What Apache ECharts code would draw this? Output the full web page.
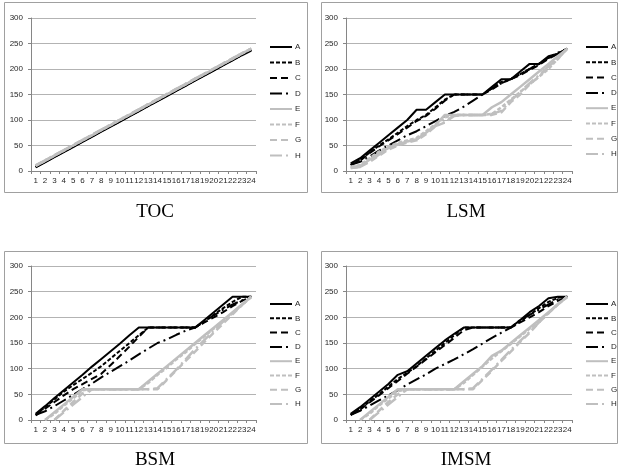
<!DOCTYPE html>
<html>
<head>
<meta charset="utf-8">
<script src="https://cdn.jsdelivr.net/npm/echarts@6/dist/echarts.min.js"></script>
<style>
html,body{margin:0;padding:0;background:#fff;}
#c{width:620px;height:474px;}
</style>
</head>
<body>
<div id="c"></div>
<script>
// ---- data ----
const categories = ['1','2','3','4','5','6','7','8','9','10','11','12','13','14','15','16','17','18','19','20','21','22','23','24'];
const seriesNames = ['A','B','C','D','E','F','G','H'];
const panelTitles = ['TOC','LSM','BSM','IMSM'];
const yTicks = [0,50,100,150,200,250,300];

// TOC
const tocA = [7,17,27,37,47,57,67,77,87,97,107,117,127,137,147,157,167,177,187,197,207,217,227,236];
const tocB = [8,18,28,38,48,58,68,78,88,98,108,118,128,138,148,158,168,178,188,198,208,218,228,238];
const tocC = [8,18,28,38,48,58,68,78,88,98,108,118,128,138,148,158,168,178,188,198,208,218,228,238];
const tocD = [8,18,28,38,48,58,68,78,88,98,108,118,128,138,148,158,168,178,188,198,208,218,228,238];
const tocE = [10,20,30,40,50,60,70,80,90,100,110,120,130,140,150,160,170,180,190,200,210,220,230,240];
const tocF = [10,20,30,40,50,60,70,80,90,100,110,120,130,140,150,160,170,180,190,200,210,220,230,240];
const tocG = [11,21,31,41,51,61,71,81,91,101,111,121,131,141,151,161,171,181,191,201,211,221,231,240];
const tocH = [11,21,31,41,51,61,71,81,91,101,111,121,131,141,151,161,171,181,191,201,211,221,231,240];

// LSM
const lsmA = [15,25,40,55,70,85,100,120,120,135,150,150,150,150,150,165,180,180,195,210,210,225,230,240];
const lsmB = [12,22,36,50,62,75,88,100,110,125,140,150,150,150,150,162,175,180,190,200,210,222,230,240];
const lsmC = [12,20,35,48,60,72,85,98,108,122,138,150,150,150,150,160,172,180,188,198,208,220,230,240];
const lsmD = [12,18,28,40,50,60,70,78,88,98,108,116,126,138,150,162,172,180,190,200,210,222,232,240];
const lsmE = [8,10,22,35,45,52,58,62,75,90,110,110,110,110,110,125,135,150,165,180,195,210,225,240];
const lsmF = [8,12,25,38,48,55,60,65,78,92,105,110,110,110,110,112,125,140,155,170,185,200,220,240];
const lsmG = [6,8,18,30,42,50,56,60,72,88,95,110,110,110,110,110,115,135,150,170,185,205,220,240];
const lsmH = [6,8,20,32,44,52,58,62,75,88,96,108,110,110,110,112,118,138,155,172,188,205,222,240];

// BSM
const bsmA = [12,27,43,58,73,88,104,119,134,149,165,180,180,180,180,180,180,180,195,210,225,240,240,240];
const bsmB = [10,25,40,55,68,80,92,105,120,135,150,165,180,180,180,180,180,180,192,205,218,230,240,240];
const bsmC = [9,22,35,48,60,70,80,90,107,125,143,162,180,180,180,180,180,180,190,200,210,222,232,240];
const bsmD = [10,17,27,38,49,60,71,83,94,105,116,128,139,150,157,166,174,180,192,204,215,225,233,240];
const bsmE = [null,0,15,30,45,60,60,60,60,60,60,60,75,90,105,120,135,150,165,180,195,210,225,240];
const bsmF = [null,0,12,28,42,58,60,60,60,60,60,60,72,88,102,118,132,148,163,178,193,208,224,240];
const bsmG = [null,null,0,18,35,52,60,60,60,60,60,60,60,60,78,97,115,133,152,170,188,206,224,240];
const bsmH = [null,null,0,15,30,45,60,60,60,60,60,60,60,62,80,98,118,138,156,174,192,208,225,240];

// IMSM
const imsmA = [12,25,40,55,70,88,95,110,125,140,155,168,180,180,180,180,180,180,195,210,222,237,240,240];
const imsmB = [10,22,36,50,65,80,92,105,120,135,150,165,180,180,180,180,180,180,192,205,218,230,238,240];
const imsmC = [10,20,34,48,62,76,90,104,118,132,146,160,175,180,180,180,180,180,190,200,210,222,232,240];
const imsmD = [10,18,28,38,48,58,69,79,89,100,109,118,128,138,149,160,170,180,195,205,215,225,235,240];
const imsmE = [null,0,15,30,45,60,60,60,60,60,60,60,75,90,105,125,135,150,165,180,195,210,225,240];
const imsmF = [null,0,12,28,42,56,60,60,60,60,60,60,72,88,104,120,134,148,163,178,193,208,225,240];
const imsmG = [null,null,0,18,35,50,60,60,60,60,60,60,60,60,78,96,115,133,152,170,190,208,226,240];
const imsmH = [null,null,0,15,30,45,60,60,60,60,60,60,60,62,80,98,117,136,154,172,190,208,226,240];

const panelData = [
  [tocA,tocB,tocC,tocD,tocE,tocF,tocG,tocH],
  [lsmA,lsmB,lsmC,lsmD,lsmE,lsmF,lsmG,lsmH],
  [bsmA,bsmB,bsmC,bsmD,bsmE,bsmF,bsmG,bsmH],
  [imsmA,imsmB,imsmC,imsmD,imsmE,imsmF,imsmG,imsmH]
];

// ---- styles / layout ----
const BLACK = '#000000', GRAY = '#bfbfbf';
const lineStyles = [
  {color:BLACK,width:2,type:'solid'},
  {color:BLACK,width:2,type:[4,2]},
  {color:BLACK,width:2,type:[7,4]},
  {color:BLACK,width:2,type:[12,4,2,4]},
  {color:GRAY,width:2.5,type:'solid'},
  {color:GRAY,width:2.5,type:[4,2]},
  {color:GRAY,width:2.5,type:[7,4]},
  {color:GRAY,width:2.5,type:[12,4,2,4]}
];
const grids = [
  {left:31, top:18, width:225, height:153},
  {left:346, top:18, width:226, height:153},
  {left:31, top:266, width:225, height:154},
  {left:346, top:266, width:226, height:154}
];
const boxes = [
  {x:4, y:2, w:303, h:190},
  {x:321, y:2, w:296, h:190},
  {x:4, y:251, w:303, h:192},
  {x:321, y:251, w:296, h:192}
];
const legendPos = [
  {left:269, top:42, gap:5.5},
  {left:585, top:42, gap:5.3},
  {left:269, top:299, gap:4.3},
  {left:585, top:299, gap:4.3}
];
const titlePos = [[155,212],[466,212],[155,460],[466,460]];

const chart = echarts.init(document.getElementById('c'), null, {renderer:'canvas'});
const option = {
  animation:false,
  backgroundColor:'#ffffff',
  grid:[], xAxis:[], yAxis:[], series:[], legend:[], graphic:[]
};
const labelFont = 'Liberation Sans';
for (let p = 0; p < 4; p++) {
  option.grid.push(Object.assign({containLabel:false}, grids[p]));
  option.xAxis.push({
    type:'category', gridIndex:p, data:categories, boundaryGap:true,
    axisLine:{show:true, lineStyle:{color:'#868686', width:1}},
    axisTick:{show:true, length:3, lineStyle:{color:'#868686'}},
    axisLabel:{interval:0, fontSize:8, color:'#262626', margin:6, fontFamily:labelFont, hideOverlap:false},
    splitLine:{show:false}
  });
  option.yAxis.push({
    type:'value', gridIndex:p, min:yTicks[0], max:yTicks[yTicks.length-1], interval:50,
    axisLine:{show:true, lineStyle:{color:'#868686', width:1}},
    axisTick:{show:true, length:3, lineStyle:{color:'#868686'}},
    axisLabel:{fontSize:8, color:'#262626', margin:8, fontFamily:labelFont},
    splitLine:{show:true, lineStyle:{color:'#b3b3b3', width:1}}
  });
  for (let s = 0; s < 8; s++) {
    option.series.push({
      type:'line', name:seriesNames[s], xAxisIndex:p, yAxisIndex:p,
      data:panelData[p][s], symbol:'none', showSymbol:false,
      lineStyle:Object.assign({}, lineStyles[s], {cap:'butt'}),
      itemStyle:{color:lineStyles[s].color},
      silent:true
    });
  }
  option.legend.push({
    orient:'vertical', left:legendPos[p].left, top:legendPos[p].top,
    itemWidth:22, itemHeight:10, itemGap:legendPos[p].gap, padding:0,
    data:seriesNames.slice(),
    itemStyle:{opacity:0, borderWidth:0},
    textStyle:{fontSize:8, color:'#262626', fontFamily:labelFont, padding:[0,0,0,-2], lineHeight:10},
    selectedMode:false
  });
  option.graphic.push({
    type:'rect', shape:{x:boxes[p].x+0.5, y:boxes[p].y+0.5, width:boxes[p].w, height:boxes[p].h},
    style:{fill:'none', stroke:'#a0a0a0', lineWidth:1}, z:-1, silent:true
  });
  option.graphic.push({
    type:'text', x:titlePos[p][0], y:titlePos[p][1],
    style:{text:panelTitles[p], fill:'#000', font:'19px "Liberation Serif", "Times New Roman", serif', textAlign:'center', textVerticalAlign:'middle'},
    silent:true
  });
}
chart.setOption(option);
</script>
</body>
</html>
